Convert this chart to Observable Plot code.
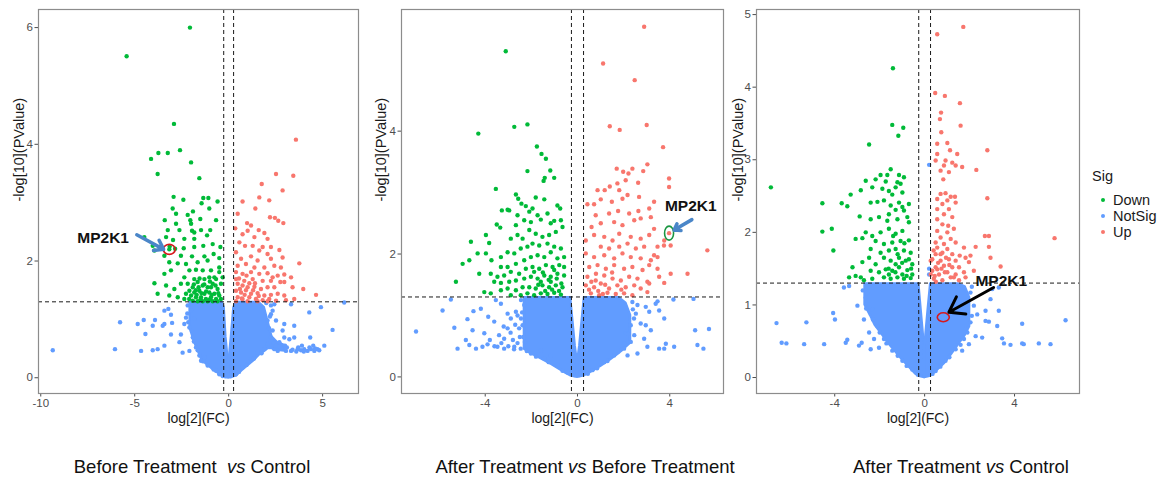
<!DOCTYPE html>
<html>
<head>
<meta charset="utf-8">
<script src="https://cdn.jsdelivr.net/npm/d3@7"></script>
<script src="https://cdn.jsdelivr.net/npm/@observablehq/plot@0.6"></script>
<style>
  html, body { margin: 0; padding: 0; background: #fff; overflow: hidden; }
  #wrap { position: relative; width: 1167px; height: 482px; background: #fff; font-family: "Liberation Sans", Arial, sans-serif; }
  .panel { position: absolute; top: 0; }
  .cap { position: absolute; width: 420px; text-align: center; font-size: 18.5px; line-height: 20px; color: #111; white-space: pre; }
  .leg { position: absolute; font-size: 14.5px; line-height: 16px; color: #1a1a1a; }
  .legdot { position: absolute; width: 4px; height: 4px; border-radius: 50%; }
</style>
</head>
<body>
<div id="wrap"></div>
<script>
// ---------- categories / labels ----------
const sigLevels = ["Down", "NotSig", "Up"];
const sigColors = ["#00BA38", "#619CFF", "#F8766D"];
const captions = ["Before Treatment  vs Control", "After Treatment vs Before Treatment", "After Treatment vs Control"];
const xTitle = "log[2](FC)";
const yTitle = "-log[10](PValue)";
const fcCut = 0.263;   // |log2 FC| threshold (log2 1.2)
const pCut = 1.301;    // -log10(0.05)

// ---------- tick values ----------
const p1XTicks = [-10, -5, 0, 5], p1YTicks = [0, 2, 4, 6];
const p2XTicks = [-4, 0, 4],      p2YTicks = [0, 2, 4];
const p3XTicks = [-4, 0, 4],      p3YTicks = [0, 1, 2, 3, 4, 5];

// ---------- Panel 1: Before Treatment vs Control ----------
const p1Down = [[-2.06,6.0],[-5.43,5.51],[-2.91,4.35],[-4.13,3.75],[-3.74,3.85],[-3.24,3.85],[-2.59,3.90],[-2.00,3.69],[-3.78,3.49],[-1.56,3.42],
[-2.93,3.10],[-2.41,3.05],[-1.35,3.08],[-1.08,3.08],[-0.59,3.02],[-1.44,2.99],[-2.98,2.90],[-1.90,2.85],[-1.03,2.90],[-3.40,2.70],[-2.80,2.81],[-2.18,2.79],[-2.04,2.70],[-1.51,2.72],[-0.67,2.70],[-2.00,2.64],[-2.80,2.64],[-3.24,2.53],[-2.62,2.53],[-1.95,2.52],[-1.83,2.49],[-1.47,2.53],[-0.98,2.53],[-1.15,2.44],[-2.36,2.38],[-1.83,2.38],[-3.33,2.41],[-2.96,2.36],[-3.14,2.25],[-4.04,2.26],[-4.49,2.41],[-3.95,2.18],[-3.42,2.09],[-2.85,2.21],[-2.39,2.22],[-1.83,2.24],[-1.35,2.26],[-0.85,2.29],[-0.44,2.24],[-2.54,2.09],[-1.95,2.08],[-1.29,2.08],[-0.80,2.12],[-0.50,2.05],[-3.16,1.98],[-2.71,1.96],[-2.27,1.95],[-1.65,1.98],[-1.12,2.01],[-0.50,1.89],[-3.07,1.84],[-2.09,1.84],[-1.74,1.85],[-1.38,1.84],[-0.94,1.84],[-0.50,1.81],[-3.42,1.78],[-2.36,1.72],[-1.83,1.69],[-1.29,1.69],[-1.03,1.72],[-0.67,1.69],[-0.32,1.72],
[-2.18,1.61],[-1.91,1.55],[-1.65,1.64],[-1.38,1.58],[-1.12,1.55],[-0.85,1.61],[-0.59,1.52],[-2.09,1.49],[-1.83,1.46],[-1.56,1.49],[-1.29,1.44],[-1.03,1.46],[-0.76,1.44],[-0.50,1.41],[-2.00,1.41],[-1.74,1.38],[-1.47,1.38],[-1.21,1.35],[-0.94,1.38],[-0.67,1.35],[-3.95,1.62],[-3.33,1.58],[-2.89,1.52],[-2.54,1.61],[-2.27,1.44],[-3.78,1.44],[-3.16,1.41],[-2.71,1.38],[-2.36,1.35],[-1.91,1.32],[-1.65,1.31],[-1.38,1.31],[-1.12,1.31],[-0.85,1.31],[-0.59,1.31],[-0.41,1.35],[-0.41,1.61],[-0.76,1.72],[-0.94,1.55],
[-1.6,1.55],[-1.45,1.45],[-1.75,1.5],[-1.2,1.48],[-0.9,1.42],[-1.3,1.6],[-1.55,1.7],[-1.0,1.65],[-0.7,1.58],[-1.85,1.6],[-2.1,1.35],[-1.5,1.34],[-1.0,1.34],[-0.55,1.45],[-1.7,1.42],[-3.16,2.20]];
const p1Up = [[3.58,4.08],[2.52,3.49],[3.44,3.46],[1.76,3.32],[2.87,3.21],[1.63,3.09],[2.16,3.04],[0.74,3.02],[0.48,2.81],[1.42,2.90],[2.20,2.75],[2.46,2.74],[2.64,2.69],[2.91,2.65],[0.98,2.65],[0.35,2.56],[1.19,2.61],[1.60,2.53],[0.74,2.46],[1.01,2.52],[1.90,2.48],[1.37,2.41],[0.57,2.32],[2.07,2.38],[0.87,2.26],[1.28,2.26],[1.81,2.24],[2.25,2.24],[0.39,2.15],[1.63,2.18],[2.07,2.12],[2.70,2.19],[0.66,2.04],[1.19,2.08],[1.54,2.01],[2.25,2.04],[2.87,2.06],[3.76,1.96],[0.48,1.92],[0.92,1.95],[1.37,1.89],[1.90,1.89],[2.43,1.92],[2.78,1.89],[0.39,1.81],[0.74,1.78],[1.19,1.81],[1.63,1.78],[2.07,1.79],[2.61,1.75],[2.96,1.77],[0.39,1.69],[0.83,1.66],[1.28,1.69],[1.81,1.66],[2.25,1.66],[2.75,1.64],[3.40,1.55],[3.97,1.52],[4.65,1.42],[0.48,1.61],[0.74,1.58],[1.01,1.55],[1.37,1.56],[1.72,1.52],[2.07,1.55],[2.43,1.55],[0.39,1.49],[0.66,1.46],[0.92,1.50],[1.19,1.44],[1.54,1.45],[1.90,1.41],[2.25,1.42],[2.61,1.44],[2.96,1.41],[0.48,1.38],[0.74,1.35],[1.10,1.38],[1.45,1.35],[1.81,1.33],[2.16,1.35],[2.52,1.32],[3.05,1.33],[3.49,1.35],[0.39,1.31],[1.01,1.31],[1.54,1.31],[2.07,1.31],[2.96,1.64],[3.32,1.72],[2.34,1.72],
[0.6,1.52],[0.85,1.42],[1.1,1.62],[0.55,1.70],[1.3,1.5],[0.7,1.36],[1.6,1.4],[0.95,1.75],[1.4,1.62]];
const p1NotSig = [[-9.36,0.47],[-6.05,0.49],[-5.78,0.95],[-4.84,0.92],[-4.52,0.99],[-4.66,0.46],[-4.04,0.47],[-4.43,0.75],[-3.92,0.99],[-4.04,0.89],[-3.51,0.89],[-3.42,0.92],[-3.78,0.49],[-3.42,0.55],[-3.42,1.15],[-3.21,1.18],[-3.07,1.08],[-3.01,0.94],[-3.07,0.74],[-2.45,0.43],[-2.09,0.46],[-2.62,0.61],[-2.54,0.74],[-2.36,0.92],[-2.27,1.03],[-1.47,0.29],[-1.29,0.35],
[6.15,1.29],[4.91,1.21],[4.29,1.12],[5.53,0.82],[5.09,0.55],[4.73,0.49],[4.38,0.49],[4.34,0.69],[4.02,0.49],[3.67,0.49],[3.49,0.69],[3.23,0.66],[2.96,0.69],[2.70,0.61],[3.49,0.89],[2.96,0.92],[2.87,0.81],[2.52,0.98],[2.43,1.26],[3.32,1.26],[2.25,1.09],[2.34,0.81],[3.05,0.46],[3.32,0.46],[3.85,0.47],[4.20,0.46],[4.56,0.46],[4.82,0.47],[2.61,0.46],[2.43,0.49],
[-2.0,1.15],[-2.09,0.86],[-1.91,0.69],[-1.74,0.52],[-1.56,0.38],[-1.12,0.21],[-0.67,0.12],[-0.32,0.03],[-2.18,1.24],[-1.83,1.01],[2.25,1.24],[2.34,1.15],[2.07,0.98],[2.25,0.69],[2.07,0.58],[1.54,0.43],[1.19,0.32],[0.74,0.18],[0.39,0.06],[1.90,0.49],
[2.8,0.5],[3.1,0.52],[3.4,0.48],[3.7,0.52],[4.0,0.45],[4.3,0.52],[4.6,0.5],[2.5,0.55],[3.0,0.55],[3.6,0.45],[4.5,0.55],[3.9,0.55],
[-2.2,1.1],[-2.15,0.95],[-1.95,0.8],[-1.85,0.62],[-1.65,0.47],[-1.35,0.28],[-0.8,0.14],[-0.5,0.06],[2.2,1.05],[2.15,0.85],[2.4,0.6],[1.75,0.42],[1.35,0.33],[0.95,0.22],[0.55,0.1],[2.0,1.28]];
// dense NotSig core, read as [log2FC, lower, upper]
const p1CoreLeft = [[-2.05,0.85,1.29],[-1.8,0.6,1.29],[-1.6,0.45,1.29],[-1.45,0.33,1.29],[-1.2,0.24,1.29],[-0.9,0.16,1.29],[-0.6,0.09,1.29],[-0.35,0.03,1.29],[-0.24,0.01,1.2],[-0.15,0.0,0.7],[0,0.0,0.2]];
const p1CoreRight = [[0,0.0,0.2],[0.15,0.0,0.7],[0.28,0.02,1.2],[0.4,0.03,1.29],[0.7,0.12,1.29],[1.0,0.2,1.29],[1.3,0.28,1.29],[1.6,0.38,1.29],[1.9,0.45,1.2],[2.1,0.5,0.95],[2.3,0.5,0.7],[2.6,0.47,0.6],[3.0,0.46,0.55]];

// ---------- Panel 2: After Treatment vs Before Treatment ----------
const p2Down = [[-3.11,5.30],[-4.30,3.96],[-2.74,4.07],[-2.17,4.11],[-1.76,3.75],[-1.56,3.63],[-1.37,3.55],[-2.17,3.35],[-1.18,3.36],[-1.42,3.24],[-1.01,3.24],[-1.47,3.19],[-3.54,3.06],[-2.67,2.97],[-2.57,2.90],[-2.43,2.82],[-1.81,2.92],[-1.44,2.89],[-0.87,2.79],[-2.96,2.71],[-3.28,2.71],[-3.03,2.72],[-2.60,2.63],[-2.24,2.78],[-2.09,2.69],[-1.95,2.74],[-1.73,2.63],[-1.30,2.66],[-1.01,2.54],[-0.75,2.74],[-3.50,2.48],[-3.35,2.43],[-2.67,2.47],[-2.31,2.55],[-2.02,2.52],[-1.59,2.56],[-1.16,2.50],[-0.72,2.55],[-4.62,2.20],[-3.97,2.31],[-3.83,2.18],[-2.89,2.25],[-2.60,2.31],[-2.38,2.25],[-2.09,2.39],[-1.81,2.33],[-1.52,2.28],[-1.23,2.31],[-0.94,2.36],[-0.65,2.44],[-4.98,1.84],[-4.69,1.90],[-4.33,2.01],[-3.97,2.01],[-4.26,1.68],[-3.73,1.90],[-3.32,1.95],[-3.03,2.03],[-2.74,2.01],[-2.46,2.09],[-2.17,2.12],[-1.95,2.17],[-1.66,2.14],[-1.30,2.17],[-1.01,2.12],[-0.72,2.09],[-3.32,1.79],[-3.03,1.79],[-2.67,1.84],[-2.31,1.90],[-2.02,1.95],[-1.73,1.98],[-1.44,1.95],[-1.16,2.03],[-0.87,1.93],[-0.58,1.95],[-5.27,1.55],[-3.76,1.68],[-3.47,1.63],[-3.18,1.65],[-2.89,1.71],[-2.53,1.68],[-2.24,1.76],[-1.95,1.79],[-1.66,1.76],[-1.37,1.82],[-1.08,1.79],[-0.79,1.82],[-0.58,1.79],[-3.61,1.55],[-3.32,1.53],[-2.96,1.55],[-2.67,1.57],[-2.31,1.60],[-2.02,1.63],[-1.73,1.60],[-1.44,1.65],[-1.16,1.63],[-0.87,1.68],[-0.58,1.65],[-4.04,1.38],[-3.76,1.36],[-3.32,1.41],[-3.03,1.44],[-2.67,1.41],[-2.38,1.46],[-2.09,1.46],[-1.81,1.44],[-1.52,1.49],[-1.23,1.46],[-0.94,1.49],[-0.65,1.46],[-2.17,1.36],[-1.88,1.33],[-1.59,1.36],[-1.30,1.35],[-1.01,1.37],[-0.72,1.34],[-2.46,1.33],[-2.89,1.33],[-1.16,1.55],[-1.59,1.55],[-1.88,1.71],[-1.01,1.74],
[-1.4,1.4],[-1.1,1.42],[-0.8,1.4],[-1.7,1.5],[-1.25,1.58],[-0.9,1.6],[-1.5,1.7],[-0.7,1.52]];
const p2Up = [[2.89,5.70],[1.11,5.10],[2.48,4.83],[1.40,4.08],[1.83,4.02],[3.00,4.10],[3.71,3.74],[3.97,3.23],[3.97,3.09],[1.70,3.39],[1.98,3.34],[2.38,3.39],[2.21,3.31],[3.03,3.46],[2.63,3.16],[2.85,3.35],[2.09,3.20],[1.73,3.15],[0.87,3.04],[1.18,3.04],[1.40,3.10],[1.81,3.04],[1.01,2.89],[0.43,2.81],[0.72,2.81],[1.49,2.85],[1.95,2.90],[2.17,2.96],[2.67,2.93],[3.32,2.85],[1.76,2.70],[2.24,2.66],[2.64,2.70],[0.79,2.63],[1.37,2.66],[3.11,2.74],[0.61,2.44],[1.01,2.50],[1.59,2.52],[1.95,2.47],[2.46,2.55],[2.74,2.58],[3.18,2.60],[3.32,2.41],[4.04,2.14],[5.63,2.06],[0.36,2.22],[0.72,2.31],[1.16,2.28],[1.52,2.22],[1.81,2.33],[2.31,2.28],[2.74,2.25],[3.11,2.31],[3.47,2.12],[3.76,2.22],[1.01,2.12],[1.37,2.09],[1.81,2.12],[2.17,2.17],[2.53,2.09],[2.89,2.12],[3.32,1.98],[0.36,2.01],[0.72,1.95],[1.16,1.98],[1.59,1.93],[1.95,2.01],[2.31,1.95],[2.74,1.93],[3.18,1.90],[3.47,1.95],[4.04,1.68],[0.51,1.79],[0.87,1.82],[1.23,1.76],[1.59,1.82],[2.02,1.76],[2.38,1.79],[2.82,1.74],[3.11,1.82],[3.47,1.76],[0.43,1.63],[0.79,1.57],[1.16,1.65],[1.52,1.60],[1.88,1.57],[2.24,1.63],[2.60,1.60],[3.03,1.55],[3.54,1.63],[0.36,1.49],[0.72,1.46],[1.01,1.52],[1.37,1.44],[1.73,1.49],[2.09,1.46],[2.46,1.49],[2.74,1.44],[3.11,1.52],[0.58,1.36],[0.94,1.33],[1.30,1.37],[1.66,1.35],[2.02,1.36],[2.38,1.33],[3.03,1.38],[3.76,1.53],[4.77,1.68],[3.97,2.34],[3.75,2.14],
[0.6,1.55],[0.9,1.4],[1.2,1.5],[0.5,1.42],[1.5,1.7],[0.8,1.68],[1.1,1.35],[1.9,1.42]];
const p2NotSig = [[-7.0,0.74],[-5.85,1.08],[-5.34,0.80],[-5.49,1.26],[-5.20,0.46],[-4.77,0.94],[-4.51,1.07],[-4.19,1.11],[-4.55,0.76],[-4.84,0.60],[-4.69,0.52],[-4.40,0.46],[-4.12,0.49],[-3.90,0.53],[-3.87,0.98],[-3.61,0.90],[-3.32,1.19],[-3.54,1.25],[-3.03,1.03],[-2.89,0.95],[-3.47,0.49],[-3.18,0.46],[-3.03,0.79],[-2.67,1.06],[-4.04,0.71],[-3.18,0.62],[-2.74,0.49],[-2.53,0.79],[-2.46,0.46],
[5.70,0.78],[5.10,0.76],[5.20,0.52],[5.46,0.46],[5.03,1.27],[4.16,1.26],[4.19,0.49],[3.76,0.46],[3.54,0.46],[3.83,0.54],[3.47,1.23],[3.54,1.08],[3.76,0.95],[3.18,0.76],[2.96,0.84],[2.74,0.87],[2.96,1.14],[3.11,1.06],[2.60,1.17],[2.53,1.03],[3.03,0.49],[2.60,0.38],[2.17,0.35],[2.31,0.57],[2.02,0.54],[2.46,0.68],[2.09,0.71],[2.89,0.62],[3.39,1.19],
[-2.31,1.17],[-2.38,0.84],[-2.28,0.57],[-2.02,0.38],[-1.44,0.30],[-0.87,0.19],[-0.43,0.07],[2.38,1.22],[2.31,0.84],[2.02,0.46],[1.59,0.35],[1.16,0.24],[0.65,0.11],[-1.59,0.43],[-1.16,0.35],
[-3.3,0.55],[-3.0,0.5],[-2.8,0.6],[-2.6,0.55],[-2.9,0.72],[-2.7,0.85],[-2.5,0.65],[-3.2,0.82],[-2.6,1.0],[-3.4,0.68],[-2.45,0.95],[-2.75,0.45],[-3.6,0.5],[-3.8,0.6],
[-2.4,1.05],[-2.35,0.65],[-2.2,0.42],[-1.8,0.33],[-1.25,0.24],[-0.65,0.1],[2.4,1.1],[2.2,0.7],[1.9,0.45],[1.3,0.26],[0.85,0.14],[0.45,0.05],[2.45,0.95],[-2.45,1.25]];
const p2CoreLeft = [[-2.3,0.45,1.29],[-2.0,0.38,1.29],[-1.7,0.32,1.29],[-1.4,0.26,1.29],[-1.1,0.2,1.29],[-0.8,0.13,1.29],[-0.5,0.06,1.29],[-0.3,0.02,1.29],[-0.2,0.01,0.9],[-0.1,0,0.5],[0,0,0.22]];
const p2CoreRight = [[0,0,0.22],[0.1,0,0.5],[0.2,0.01,0.9],[0.3,0.02,1.29],[0.6,0.08,1.29],[1.0,0.17,1.29],[1.4,0.27,1.29],[1.8,0.38,1.29],[2.1,0.48,1.2],[2.3,0.55,1.0]];

// ---------- Panel 3: After Treatment vs Control ----------
const p3Down = [[-1.41,4.26],[-1.44,3.48],[-0.95,3.44],[-1.17,3.33],[-2.47,3.21],[-6.84,2.62],
[-1.51,2.87],[-1.96,2.79],[-1.66,2.79],[-1.14,2.79],[-0.92,2.76],[-2.18,2.73],[-1.73,2.70],[-1.21,2.69],[-1.07,2.67],[-2.62,2.71],[-2.84,2.58],[-2.33,2.62],[-1.88,2.60],[-1.59,2.57],[-1.29,2.62],[-1.44,2.52],[-0.99,2.55],[-3.29,2.52],[-3.69,2.40],[-3.44,2.36],[-4.55,2.40],[-2.40,2.41],[-2.10,2.42],[-1.81,2.44],[-1.14,2.41],[-1.51,2.37],[-0.99,2.35],[-0.70,2.39],[-1.29,2.31],[-0.92,2.30],[-1.59,2.25],[-2.89,2.22],[-2.40,2.18],[-2.03,2.21],[-1.66,2.16],[-1.21,2.18],[-0.77,2.21],[-0.70,2.14],[-4.55,2.01],[-4.13,2.05],[-4.06,1.75],[-2.62,2.00],[-2.33,1.95],[-1.96,2.00],[-1.59,2.05],[-1.29,1.98],[-0.99,2.02],[-3.07,1.91],[-2.77,1.92],[-2.18,1.88],[-1.81,1.84],[-1.44,1.86],[-1.07,1.88],[-0.70,1.89],[-2.40,1.77],[-1.96,1.72],[-1.59,1.75],[-1.29,1.77],[-0.92,1.75],[-0.62,1.72],[-3.21,1.52],[-2.77,1.59],[-2.47,1.65],[-2.18,1.56],[-1.81,1.65],[-1.51,1.61],[-1.14,1.65],[-0.84,1.61],[-0.55,1.56],[-3.36,1.38],[-3.07,1.40],[-2.84,1.38],[-2.40,1.47],[-2.03,1.45],[-1.73,1.49],[-1.44,1.47],[-1.14,1.52],[-0.77,1.48],[-0.55,1.42],[-1.81,1.38],[-1.51,1.36],[-1.21,1.38],[-0.92,1.36],[-0.62,1.37],[-2.33,1.36],[-2.70,1.34],[-1.59,1.42],[-0.99,1.42],[-1.29,1.56],[-0.70,1.63],
[-1.3,1.45],[-1.0,1.58],[-0.8,1.4],[-1.6,1.5],[-1.2,1.7],[-0.9,1.85],[-1.4,1.95],[-0.6,1.5]];
const p3Up = [[1.72,4.83],[0.56,4.73],[0.47,3.92],[0.90,3.88],[1.57,3.78],[0.73,3.65],[0.68,3.56],
[1.60,3.47],[0.74,3.38],[0.56,3.22],[1.01,3.23],[1.13,3.13],[2.79,3.13],[0.56,3.08],[1.45,3.08],[0.49,2.99],[0.93,2.99],[1.23,2.96],[0.86,2.92],[1.38,2.92],[1.67,2.90],[2.30,2.86],[0.71,2.85],[1.08,2.83],[0.83,2.73],[0.71,2.53],[0.93,2.54],[1.16,2.49],[1.35,2.49],[0.56,2.46],[1.01,2.44],[0.79,2.39],[1.38,2.41],[2.79,2.47],[0.56,2.32],[1.08,2.32],[0.86,2.25],[1.23,2.21],[0.56,2.18],[0.79,2.11],[1.05,2.09],[0.56,2.02],[1.01,2.00],[1.30,2.05],[2.68,1.95],[2.86,1.95],[0.71,1.93],[1.16,1.91],[0.49,1.86],[0.86,1.84],[1.38,1.86],[0.56,1.79],[1.01,1.77],[1.75,1.79],[2.27,1.80],[2.86,1.80],[5.78,1.92],[0.49,1.70],[0.79,1.72],[1.23,1.70],[1.56,1.68],[2.04,1.68],[0.34,1.63],[0.71,1.61],[1.08,1.63],[1.38,1.61],[1.82,1.65],[2.93,1.65],[0.49,1.52],[0.86,1.54],[1.23,1.52],[1.53,1.52],[1.97,1.59],[3.38,1.53],[0.34,1.47],[0.64,1.42],[1.01,1.45],[1.38,1.42],[1.75,1.45],[2.19,1.47],[0.41,1.36],[0.79,1.34],[1.16,1.38],[1.53,1.34],[1.82,1.38],[0.56,1.49],[0.27,1.61],[0.27,1.42],[0.71,1.70],[1.30,1.38],
[0.45,1.4],[0.6,1.58],[0.9,1.45],[0.4,1.75],[0.75,1.5],[1.1,1.55],[0.5,1.32],[0.95,1.65]];
const p3NotSig = [[-6.59,0.75],[-6.36,0.48],[-6.15,0.47],[-5.36,0.46],[-5.26,0.76],[-4.47,0.46],[-4.07,0.89],[-3.99,0.80],[-3.51,0.48],[-3.44,0.52],[-2.92,0.44],[-2.80,0.48],[-2.99,0.99],[-2.62,1.10],[-2.70,0.80],[-2.47,0.62],[-2.40,0.39],[-2.25,0.53],[-2.03,0.41],[-3.59,1.24],[-3.36,1.26],
[6.27,0.79],[5.60,0.46],[5.08,0.47],[4.34,0.47],[4.41,0.46],[3.82,0.45],[3.53,0.47],[4.34,0.74],[3.23,0.71],[3.30,0.92],[2.86,0.77],[2.71,0.78],[3.45,0.54],[2.56,0.55],[2.93,1.08],[2.71,0.92],[2.34,0.87],[2.27,0.57],[1.97,0.46],[1.67,0.37],[3.01,1.22],[3.30,1.24],
[0.2,2.93],[0.2,1.5],[0.2,1.42],
[-2.55,1.17],[-2.33,0.94],[-2.10,0.71],[-1.81,0.53],[-1.44,0.37],[-0.99,0.23],[-0.55,0.11],[2.04,1.17],[2.19,0.99],[2.04,0.76],[1.75,0.53],[1.38,0.39],[0.93,0.23],[0.49,0.09],[1.82,0.67],
[-2.75,1.2],[-2.6,0.95],[-2.3,0.8],[-2.0,0.62],[-1.7,0.47],[-1.2,0.3],[-0.8,0.16],[-0.3,0.04],[2.1,1.25],[2.1,0.85],[1.9,0.62],[1.6,0.45],[1.1,0.28],[0.7,0.15],[0.35,0.05]];
const p3CoreLeft = [[-2.65,1.0,1.29],[-2.4,0.85,1.29],[-2.2,0.72,1.29],[-1.9,0.6,1.29],[-1.6,0.47,1.29],[-1.3,0.36,1.29],[-1.0,0.25,1.29],[-0.7,0.15,1.29],[-0.4,0.05,1.29],[-0.26,0.02,1.29],[-0.15,0.01,0.9],[0,0,0.38]];
const p3CoreRight = [[0,0,0.38],[0.15,0.01,0.9],[0.27,0.02,1.29],[0.5,0.08,1.29],[0.9,0.2,1.29],[1.2,0.32,1.29],[1.5,0.45,1.29],[1.8,0.58,1.25],[2.0,0.7,1.1]];

// ---------- MP2K1 highlighted gene (label, arrow tail, point) ----------
const p1Gene = {x: -3.16, y: 2.20, lx: -6.68, ly: 2.40, ax: -4.89, ay: 2.45, hx: -3.46, hy: 2.20};
const p2Gene = {x: 3.97, y: 2.34, lx: 4.91, ly: 2.78, ax: 4.96, ay: 2.56, hx: 4.19, hy: 2.39};
const p3Gene = {x: 0.83, y: 0.83, lx: 3.41, ly: 1.33, ax: 3.07, ay: 1.24, hx: 1.08, hy: 0.90};

// ---------- drawing ----------
const FONT = "'Liberation Sans', Arial, Helvetica, sans-serif";
function ellipseSymbol(rx, ry) {
  const k = 0.5523;
  return {draw(c) {
    c.moveTo(rx, 0);
    c.bezierCurveTo(rx, ry * k, rx * k, ry, 0, ry);
    c.bezierCurveTo(-rx * k, ry, -rx, ry * k, -rx, 0);
    c.bezierCurveTo(-rx, -ry * k, -rx * k, -ry, 0, -ry);
    c.bezierCurveTo(rx * k, -ry, rx, -ry * k, rx, 0);
    c.closePath();
  }};
}
const px = d => d[0], py = d => d[1];
const fmt = d => String(d);

function panel(cfg) {
  const [cDown, cNot, cUp] = sigColors;
  const g = cfg.gene;
  const svg = Plot.plot({
    width: cfg.width, height: 436,
    marginLeft: cfg.mL, marginRight: cfg.mR, marginTop: 9, marginBottom: 43,
    style: {fontFamily: FONT, fontSize: "11.5px", color: "#4d4d4d", background: "transparent", overflow: "visible"},
    x: {domain: cfg.xd, ticks: cfg.xt, tickFormat: fmt, tickSize: 3.5, tickPadding: 1.5, label: null},
    y: {domain: cfg.yd, ticks: cfg.yt, tickFormat: fmt, tickSize: 3.5, tickPadding: 2, label: null},
    marks: [
      Plot.area(cfg.coreL, {x1: d => d[0], y1: d => d[1], y2: d => d[2], fill: cNot, stroke: cNot, strokeWidth: 2.5, strokeLinejoin: "round"}),
      Plot.area(cfg.coreR, {x1: d => d[0], y1: d => d[1], y2: d => d[2], fill: cNot, stroke: cNot, strokeWidth: 2.5, strokeLinejoin: "round"}),
      Plot.dot(cfg.notSig, {x: px, y: py, r: 2.2, fill: cNot}),
      Plot.dot(cfg.down, {x: px, y: py, r: 2.2, fill: cDown}),
      Plot.dot(cfg.up, {x: px, y: py, r: 2.2, fill: cUp}),
      Plot.ruleX([-fcCut, fcCut], {stroke: "#1a1a1a", strokeWidth: 1, strokeDasharray: "4,3"}),
      Plot.ruleY([pCut], {stroke: "#1a1a1a", strokeWidth: 1, strokeDasharray: "4,3"}),
      Plot.frame({stroke: "#8c8c8c", strokeWidth: 1.2}),
      Plot.dot([g], {x: "x", y: "y", r: 5, symbol: ellipseSymbol(cfg.erx, cfg.ery), fill: "none", stroke: cfg.ringColor, strokeWidth: 1.6}),
      Plot.arrow([g], {x1: "ax", y1: "ay", x2: "hx", y2: "hy", stroke: cfg.arrowColor, strokeWidth: cfg.arrowWidth, headLength: cfg.headLength, headAngle: 70}),
      Plot.text([g], {x: "lx", y: "ly", text: () => "MP2K1", fontSize: 15.5, fontWeight: "bold", fill: "#111", fontFamily: FONT}),
      Plot.text([xTitle], {frameAnchor: "bottom", dy: 29, text: d => d, fontSize: 14, fill: "#1a1a1a"}),
      Plot.text([yTitle], {frameAnchor: "left", dx: cfg.ytDx, rotate: -90, text: d => d, fontSize: 14.5, fill: "#1a1a1a"})
    ]
  });
  svg.classList.add("panel");
  svg.style.left = cfg.left + "px";
  return svg;
}

const wrap = document.getElementById("wrap");
wrap.appendChild(panel({left: 0, width: 365, mL: 38, mR: 7, xd: [-10.12, 6.91], yd: [-0.27, 6.31], xt: p1XTicks, yt: p1YTicks,
  down: p1Down, up: p1Up, notSig: p1NotSig, coreL: p1CoreLeft, coreR: p1CoreRight, gene: p1Gene,
  erx: 6, ery: 5, ringColor: "#d7191c", arrowColor: "#4a86c8", arrowWidth: 3.5, headLength: 9, ytDx: -19}));
wrap.appendChild(panel({left: 365, width: 365, mL: 36, mR: 7, xd: [-7.63, 6.33], yd: [-0.27, 5.98], xt: p2XTicks, yt: p2YTicks,
  down: p2Down, up: p2Up, notSig: p2NotSig, coreL: p2CoreLeft, coreR: p2CoreRight, gene: p2Gene,
  erx: 4.5, ery: 7, ringColor: "#1a9641", arrowColor: "#4a86c8", arrowWidth: 3.5, headLength: 9, ytDx: -20}));
wrap.appendChild(panel({left: 730, width: 437, mL: 26, mR: 88, xd: [-7.48, 6.89], yd: [-0.22, 5.07], xt: p3XTicks, yt: p3YTicks,
  down: p3Down, up: p3Up, notSig: p3NotSig, coreL: p3CoreLeft, coreR: p3CoreRight, gene: p3Gene,
  erx: 6, ery: 4.5, ringColor: "#d7191c", arrowColor: "#000", arrowWidth: 3, headLength: 12, ytDx: -18}));

// captions
const capCenters = [192, 585, 961];
captions.forEach((c, i) => {
  const d = document.createElement("div");
  d.className = "cap";
  d.style.left = (capCenters[i] - 210) + "px";
  d.style.top = "457px";
  const parts = c.split("vs");
  d.appendChild(document.createTextNode(parts[0]));
  const em = document.createElement("i"); em.textContent = "vs"; d.appendChild(em);
  d.appendChild(document.createTextNode(parts[1]));
  wrap.appendChild(d);
});

// legend
const legTitle = document.createElement("div");
legTitle.className = "leg"; legTitle.textContent = "Sig";
legTitle.style.left = "1092px"; legTitle.style.top = "168px";
wrap.appendChild(legTitle);
sigLevels.forEach((s, i) => {
  const cy = 200 + i * 16;
  const dot = document.createElement("div");
  dot.className = "legdot"; dot.style.background = sigColors[i];
  dot.style.left = "1101px"; dot.style.top = (cy - 2) + "px";
  wrap.appendChild(dot);
  const t = document.createElement("div");
  t.className = "leg"; t.textContent = s;
  t.style.left = "1113px"; t.style.top = (cy - 8) + "px";
  wrap.appendChild(t);
});
</script>
</body>
</html>
